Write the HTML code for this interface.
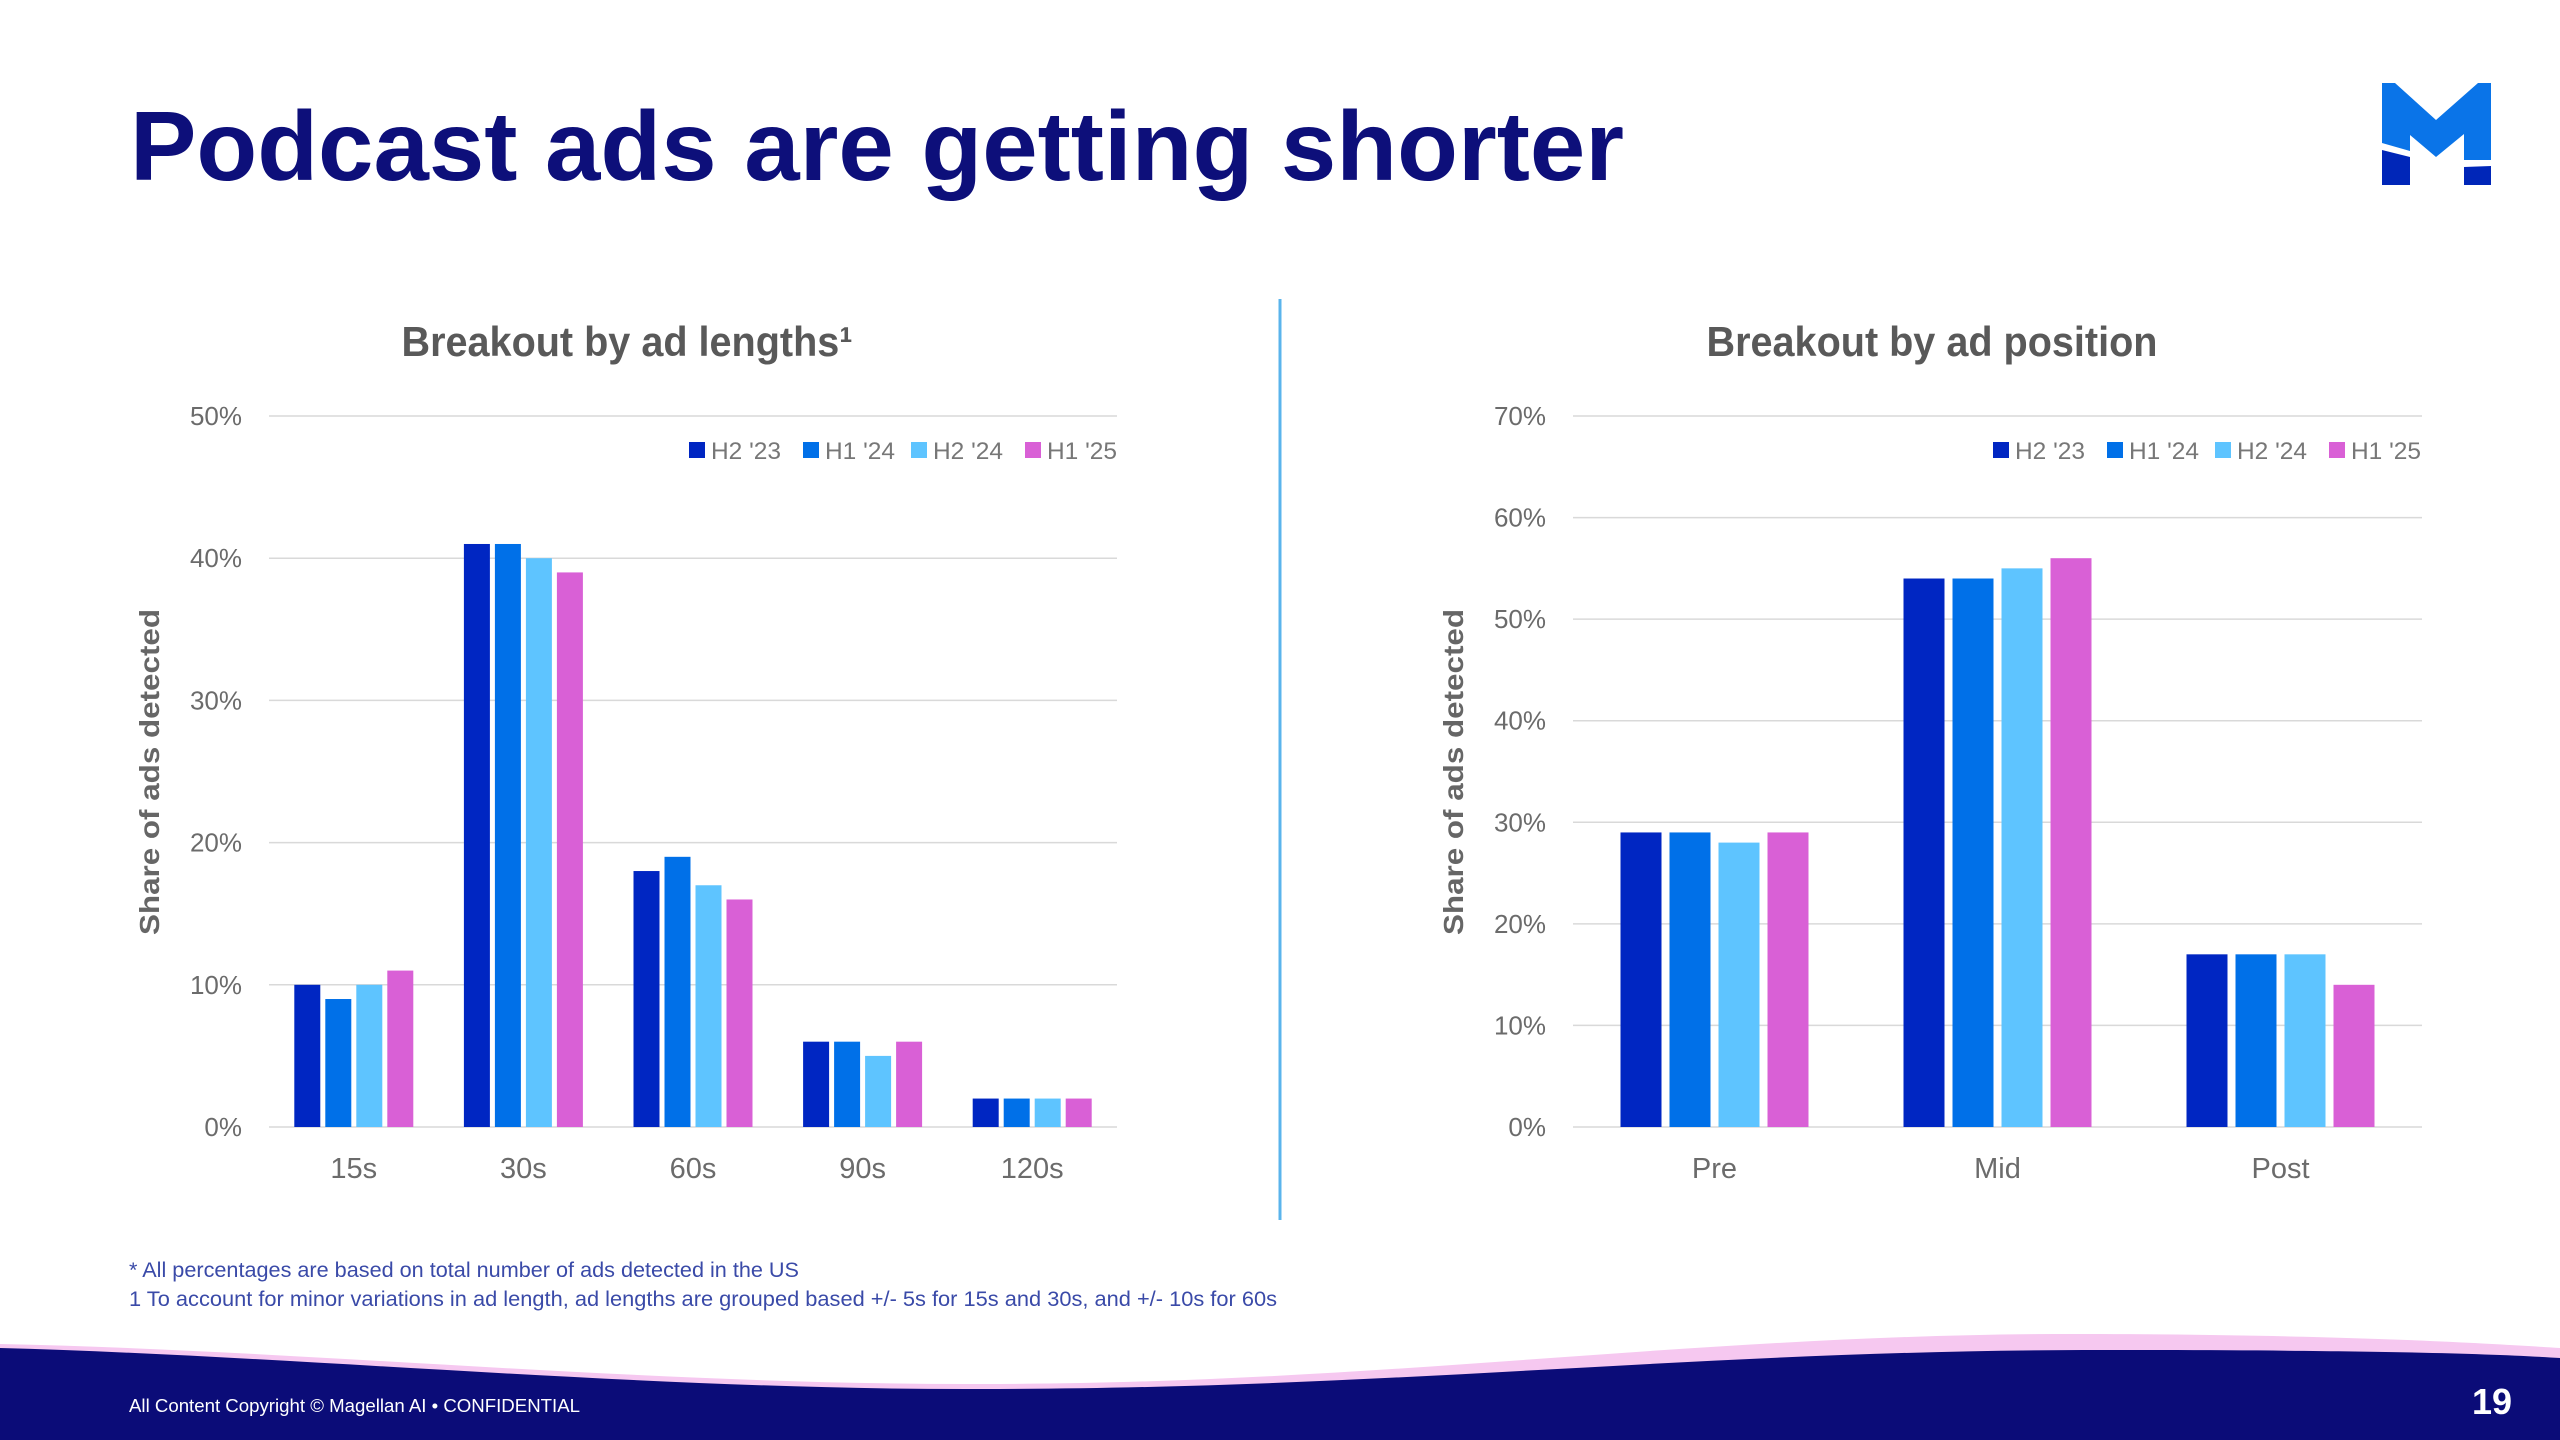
<!DOCTYPE html>
<html><head><meta charset="utf-8"><style>
html,body{margin:0;padding:0;background:#fff;}
svg{display:block;font-family:"Liberation Sans",sans-serif;}
</style></head><body>
<svg id="s" width="2560" height="1440" viewBox="0 0 2560 1440" xmlns="http://www.w3.org/2000/svg">
<text x="130" y="180" font-size="98" font-weight="bold" fill="#0d0f7a" textLength="1494" lengthAdjust="spacingAndGlyphs">Podcast ads are getting shorter</text>
<g transform="translate(2300,50)">
<polygon fill="#0a74e8" points="82,33 95,33 136,70 178,33 191,33 191,110 164,110 164,84 136,107 110,85 110,101 82,93"/>
<polygon fill="#0026b8" points="82,100 110,107 110,135 82,135"/>
<polygon fill="#0026b8" points="164,117 191,116 191,135 164,135"/>
</g>
<line x1="1280" y1="299" x2="1280" y2="1220" stroke="#5ab4ec" stroke-width="3"/>
<g id="left"></g>
<g id="right"></g>
<text x="129" y="1277" font-size="21" fill="#3a4aa8" textLength="670" lengthAdjust="spacingAndGlyphs">* All percentages are based on total number of ads detected in the US</text>
<text x="129" y="1306" font-size="21" fill="#3a4aa8" textLength="1148" lengthAdjust="spacingAndGlyphs">1 To account for minor variations in ad length, ad lengths are grouped based +/- 5s for 15s and 30s, and +/- 10s for 60s</text>
<path d="M0,1344 C300,1350 650,1385 980,1384 C1400,1384 1700,1332 2100,1334 C2350,1335 2480,1343 2560,1348 L2560,1440 L0,1440 Z" fill="#f6c8f0"/>
<path d="M0,1348 C300,1356 650,1390 980,1389 C1400,1389 1700,1350 2100,1350 C2350,1350 2480,1353 2560,1358 L2560,1440 L0,1440 Z" fill="#0b0c78"/>
<text x="129" y="1412" font-size="18" fill="#fff" textLength="451" lengthAdjust="spacingAndGlyphs">All Content Copyright © Magellan AI • CONFIDENTIAL</text>
<text x="2492" y="1414" font-size="36" font-weight="bold" fill="#fff" text-anchor="middle">19</text>
</svg>
<script>
const seriesNames = ["H2 '23","H1 '24","H2 '24","H1 '25"];
const colors = ["#0026c2","#0070e8","#5ec4ff","#d960d6"];
const lenCategories = ["15s","30s","60s","90s","120s"];
const lenH223 = [10,41,18,6,2];
const lenH124 = [9,41,19,6,2];
const lenH224 = [10,40,17,5,2];
const lenH125 = [11,39,16,6,2];
const lenTicks = [0,10,20,30,40,50];
const posCategories = ["Pre","Mid","Post"];
const posH223 = [29,54,17];
const posH124 = [29,54,17];
const posH224 = [28,55,17];
const posH125 = [29,56,14];
const posTicks = [0,10,20,30,40,50,60,70];
const NS="http://www.w3.org/2000/svg";
function mk(parent,tag,attrs,text){const e=document.createElementNS(NS,tag);for(const k in attrs)e.setAttribute(k,attrs[k]);if(text!==undefined)e.textContent=text;parent.appendChild(e);return e;}
function chart(g,o){
  const max=o.ticks[o.ticks.length-1];
  const y=v=>o.y0-(v/max)*(o.y0-o.y1);
  const bw=(o.x1-o.x0)/o.cats.length;
  const t=mk(g,'text',{x:o.tx,y:356,'font-size':42,'font-weight':'bold',fill:'#595959','text-anchor':'middle',textLength:451,lengthAdjust:'spacingAndGlyphs'},o.title);
  
  
  o.ticks.forEach(v=>{
    const l=mk(g,'line',{x1:o.x0,x2:o.x1,y1:y(v),y2:y(v),stroke:'#d9d9d9','stroke-width':1.5});
    
    
    const tl=mk(g,'text',{x:o.x0-27,y:y(v)+9,'font-size':26,fill:'#6b6b6b','text-anchor':'end'},v+'%');
    
    
  });
  const at=mk(g,'text',{transform:`translate(${o.x0-110},772) rotate(-90)`,'font-size':28,'font-weight':'bold',fill:'#666','text-anchor':'middle',textLength:326,lengthAdjust:'spacingAndGlyphs'},'Share of ads detected');
  
  
  o.cats.forEach((c,i)=>{
    const cx=o.x0+bw*(i+0.5);
    o.series.forEach((s,j)=>{
      const x=cx-(o.step*4-(o.step-o.w))/2+j*o.step;
      const r=mk(g,'rect',{x:x,y:y(s[i]),width:o.w,height:o.y0-y(s[i]),fill:colors[j]});
      
      
    });
    const xl=mk(g,'text',{x:cx,y:1178,'font-size':29,fill:'#6b6b6b','text-anchor':'middle'},c);
    
    
  });
  const lx=[0,114,222,336];
  seriesNames.forEach((n,j)=>{
    const sq=mk(g,'rect',{x:o.x0+420+lx[j],y:442,width:16,height:16,fill:colors[j]});
    
    
    const lt=mk(g,'text',{x:o.x0+442+lx[j],y:459,'font-size':24,fill:'#777',textLength:70,lengthAdjust:'spacingAndGlyphs'},n);
    
    
  });
}
chart(document.getElementById('left'),{x0:269,x1:1117,y0:1127,y1:416,ticks:lenTicks,cats:lenCategories,series:[lenH223,lenH124,lenH224,lenH125],w:26,step:31,tx:627,title:'Breakout by ad lengths\u00B9'});
chart(document.getElementById('right'),{x0:1573,x1:2422,y0:1127,y1:416,ticks:posTicks,cats:posCategories,series:[posH223,posH124,posH224,posH125],w:41,step:49,tx:1932,title:'Breakout by ad position'});
</script>
</body></html>
